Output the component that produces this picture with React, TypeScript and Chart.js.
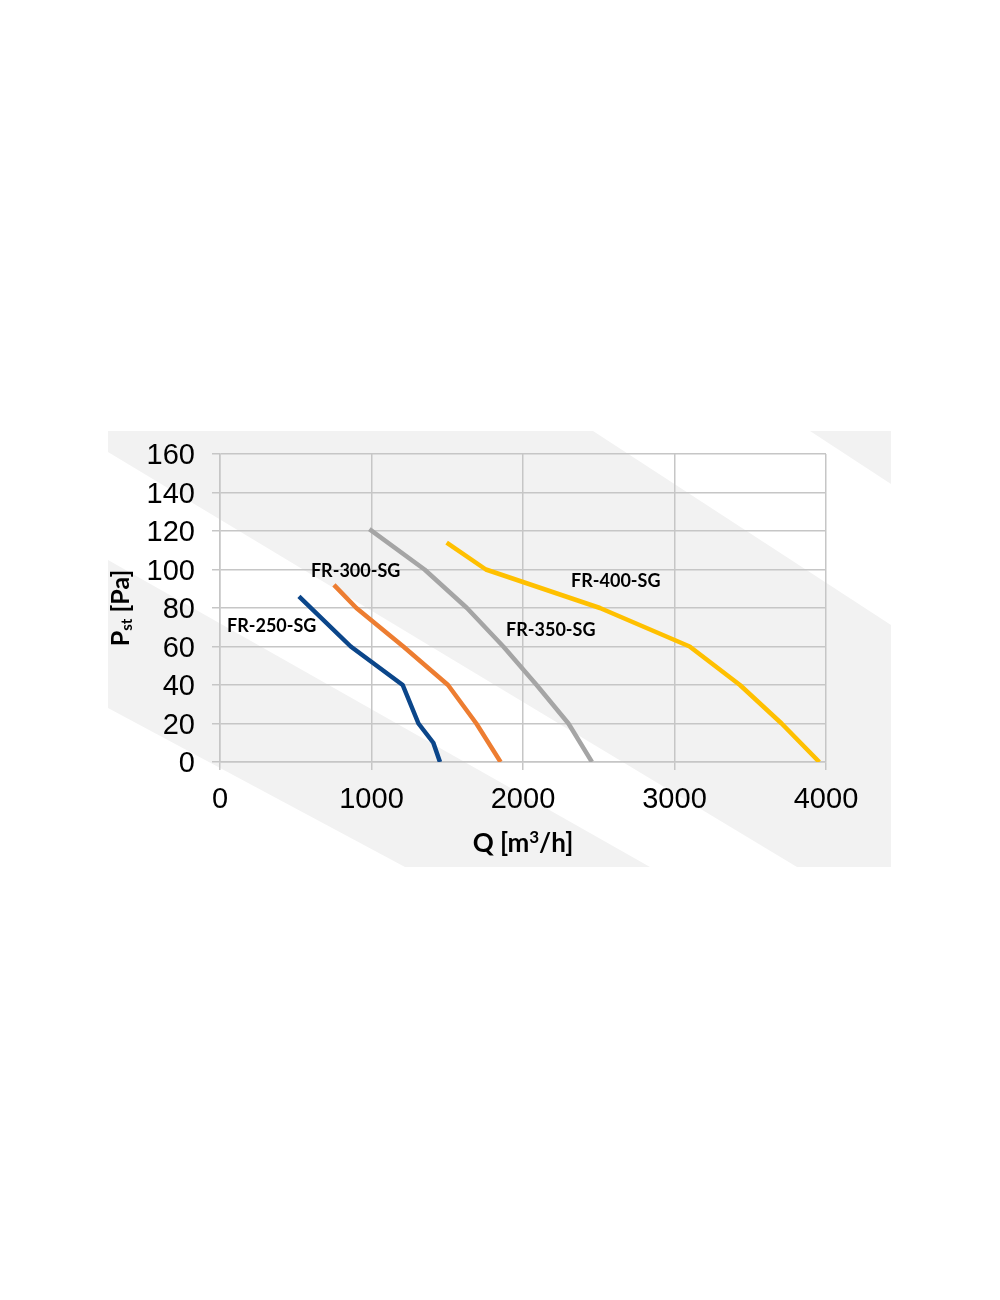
import React, { useEffect, useRef } from "react";
import { Chart, registerables } from "chart.js";

Chart.register(...registerables);

// ---- data ----
const xTicks = [0, 1000, 2000, 3000, 4000];
const yTicks = [0, 20, 40, 60, 80, 100, 120, 140, 160];

const seriesNames = ["FR-250-SG", "FR-300-SG", "FR-350-SG", "FR-400-SG"];
const seriesColors = ["#0b468a", "#ed7d31", "#a5a5a5", "#ffc000"];

const fr250Q = [521, 863, 1206, 1310, 1408, 1452];
const fr250P = [86, 60, 40, 20, 10, 0];

const fr300Q = [752, 900, 1210, 1505, 1692, 1852];
const fr300P = [92, 80, 60, 40, 20, 0];

const fr350Q = [986, 1350, 1630, 1870, 2090, 2300, 2455];
const fr350P = [121, 100, 80, 60, 40, 20, 0];

const fr400Q = [1496, 1755, 2508, 3100, 3432, 3707, 3956];
const fr400P = [114, 100, 80, 60, 40, 20, 0];

// label anchor (left edge, vertical middle) in data units
const labelQ = [46, 600, 1888, 2317];
const labelP = [70.6, 99.2, 68.6, 94];

const xTitleParts = ["Q [m", "3", "/h]"];
const yTitleParts = ["P", "st", " [Pa]"];

const toPoints = (q: number[], p: number[]) => q.map((v, i) => ({ x: v, y: p[i] }));

const stripePlugin = {
  id: "stripes",
  beforeDraw(chart: any) {
    const ctx = chart.ctx;
    ctx.save();
    ctx.fillStyle = "#f2f2f2";
    const polys = [
      [[108, 431], [593, 431], [891, 625], [891, 867], [797, 867], [108, 452]],
      [[108, 560], [650, 867], [405, 867], [108, 708]],
      [[810, 431], [891, 431], [891, 484]],
    ];
    for (const poly of polys) {
      ctx.beginPath();
      poly.forEach(([x, y], i) => (i ? ctx.lineTo(x, y) : ctx.moveTo(x, y)));
      ctx.closePath();
      ctx.fill();
    }
    ctx.restore();
  },
};

const textPlugin = {
  id: "texts",
  afterDatasetsDraw(chart: any) {
    const ctx = chart.ctx;
    const xs = chart.scales.x;
    const ys = chart.scales.y;
    const area = chart.chartArea;
    ctx.save();
    ctx.fillStyle = "#000";
    ctx.textBaseline = "middle";
    ctx.textAlign = "left";
    ctx.font = "bold 18px Lato";
    seriesNames.forEach((n, i) => {
      ctx.fillText(n, xs.getPixelForValue(labelQ[i]), ys.getPixelForValue(labelP[i]));
    });
    ctx.textBaseline = "alphabetic";
    ctx.textAlign = "left";
    // x title with superscript
    {
      const fMain = "bold 26px Lato";
      const fSup = "bold 17px Lato";
      ctx.font = fMain;
      const a = ctx.measureText(xTitleParts[0]).width;
      const c = ctx.measureText(xTitleParts[2]).width;
      ctx.font = fSup;
      const b = ctx.measureText(xTitleParts[1]).width;
      let x = (area.left + area.right) / 2 - (a + b + c) / 2;
      const y = 852;
      ctx.font = fMain;
      ctx.fillText(xTitleParts[0], x, y);
      x += a;
      ctx.font = fSup;
      ctx.fillText(xTitleParts[1], x, y - 9);
      x += b;
      ctx.font = fMain;
      ctx.fillText(xTitleParts[2], x, y);
    }
    // y title rotated with subscript
    {
      const cy = (area.top + area.bottom) / 2;
      ctx.translate(129, cy);
      ctx.rotate(-Math.PI / 2);
      const fMain = "bold 25px Lato";
      const fSub = "bold 15px Lato";
      ctx.font = fMain;
      const w1 = ctx.measureText(yTitleParts[0]).width;
      const w3 = ctx.measureText(yTitleParts[2]).width;
      ctx.font = fSub;
      const w2 = ctx.measureText(yTitleParts[1]).width;
      let x = -(w1 + w2 + w3) / 2;
      ctx.font = fMain;
      ctx.fillText(yTitleParts[0], x, 0);
      x += w1;
      ctx.font = fSub;
      ctx.fillText(yTitleParts[1], x, 3);
      x += w2;
      ctx.font = fMain;
      ctx.fillText(yTitleParts[2], x, 0);
    }
    ctx.restore();
  },
};

export default function App() {
  const ref = useRef<HTMLCanvasElement>(null);
  useEffect(() => {
    if (!ref.current) return;
    const gridColor = "#c6c6c6";
    const chart = new Chart(ref.current, {
      type: "line",
      data: {
        datasets: [
          [fr250Q, fr250P],
          [fr300Q, fr300P],
          [fr350Q, fr350P],
          [fr400Q, fr400P],
        ].map(([q, p], i) => ({
          label: seriesNames[i],
          data: toPoints(q, p),
          borderColor: seriesColors[i],
          backgroundColor: seriesColors[i],
          borderWidth: 4.5,
          pointRadius: 0,
          tension: 0,
          fill: false,
          borderCapStyle: "butt",
          borderJoinStyle: "round",
        })),
      },
      options: {
        animation: false,
        responsive: false,
        devicePixelRatio: 1,
        layout: { padding: { left: 0, top: 454, right: 174, bottom: 0 } },
        plugins: { legend: { display: false }, tooltip: { enabled: false }, title: { display: false } },
        scales: {
          x: {
            type: "linear",
            min: 0,
            max: 4000,
            afterBuildTicks: (s: any) => {
              s.ticks = xTicks.map((v) => ({ value: v }));
            },
            afterFit: (s: any) => {
              s.height = 1300 - 762;
            },
            ticks: {
              font: { family: "'Liberation Sans', Arial", size: 29 },
              color: "#000",
              padding: 13,
              maxRotation: 0,
              callback: (v: any) => String(v),
            },
            grid: { color: gridColor, lineWidth: 1.5, tickLength: 8 },
            border: { color: gridColor, width: 1.5 },
          },
          y: {
            type: "linear",
            min: 0,
            max: 160,
            afterBuildTicks: (s: any) => {
              s.ticks = yTicks.map((v) => ({ value: v }));
            },
            afterFit: (s: any) => {
              s.width = 220;
            },
            ticks: {
              font: { family: "'Liberation Sans', Arial", size: 29 },
              color: "#000",
              padding: 17,
              labelOffset: 2,
              callback: (v: any) => String(v),
            },
            grid: { color: gridColor, lineWidth: 1.5, tickLength: 8 },
            border: { color: gridColor, width: 1.5 },
          },
        },
      },
      plugins: [stripePlugin, textPlugin],
    } as any);
    return () => chart.destroy();
  }, []);
  return (
    <div style={{ position: "absolute", left: 0, top: 0, width: 1000, height: 1300 }}>
      <canvas ref={ref} width={1000} height={1300} style={{ display: "block" }} />
    </div>
  );
}
